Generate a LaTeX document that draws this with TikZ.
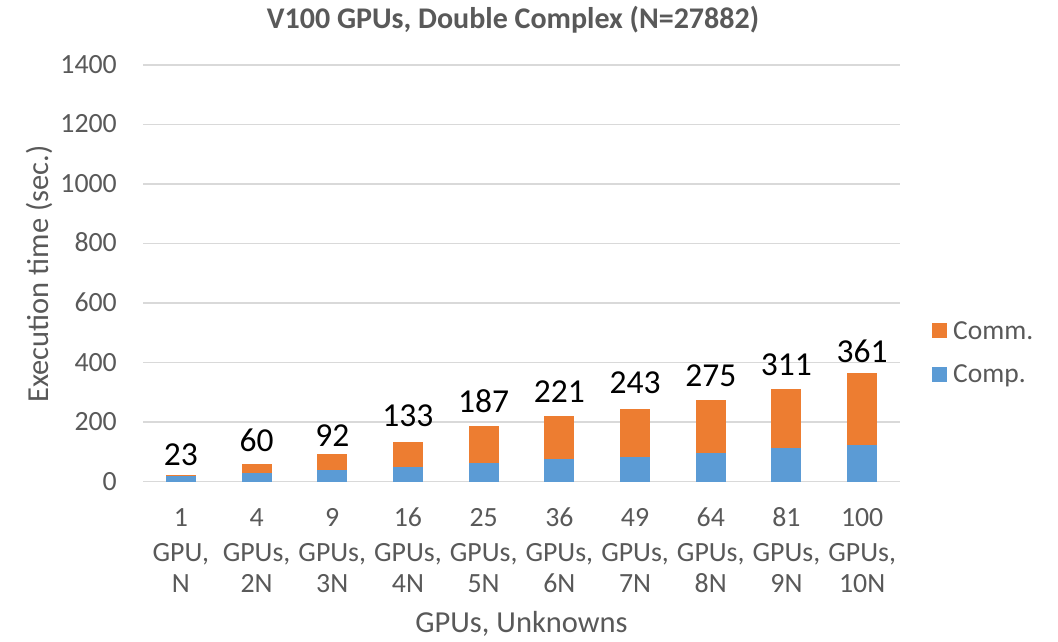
\documentclass[tikz,border=0pt]{standalone}
\usepackage{fontspec}
\setmainfont{Carlito}
\definecolor{txtgray}{HTML}{595959}
\definecolor{gridgray}{HTML}{D9D9D9}
\definecolor{commorange}{HTML}{ED7D31}
\definecolor{compblue}{HTML}{5B9BD5}
\begin{document}
\begin{tikzpicture}[x=1pt,y=-1pt,
  gridline/.style={draw=gridgray,line width=1.5pt},
  ticklab/.style={inner sep=0pt,text=txtgray,font=\fontsize{27.8}{32}\selectfont},
  catlab/.style={inner sep=0pt,anchor=base,text=txtgray,font=\fontsize{27.8}{32}\selectfont},
  datalab/.style={inner sep=0pt,anchor=base,text=black,font=\fontsize{33.5}{38}\selectfont},
  axtitle/.style={inner sep=0pt,anchor=base,text=txtgray,font=\fontsize{30.5}{35}\selectfont},
  legtext/.style={inner sep=0pt,anchor=base west,text=txtgray,font=\fontsize{27.5}{32}\selectfont}]
\useasboundingbox (0,0) rectangle (1058,641);
\fill[white] (0,0) rectangle (1058,641);

% horizontal gridlines and value axis labels
\foreach \k/\v in {0/0,1/200,2/400,3/600,4/800,5/1000,6/1200,7/1400}{
  \draw[gridline] (143,{481.7-\k*59.53}) -- (900,{481.7-\k*59.53});
  \node[ticklab,anchor=base east] (ytick\k) at (117,{481.7-\k*59.53+8.4}) {\v};
}

% stacked bars: computation (bottom) and communication (top)
\foreach \i/\c/\t/\n/\g/\u in {
   1/20/23/1/{GPU,}/N,
   2/28/60/4/{GPUs,}/2N,
   3/41/92/9/{GPUs,}/3N,
   4/49/133/16/{GPUs,}/4N,
   5/62/187/25/{GPUs,}/5N,
   6/75/221/36/{GPUs,}/6N,
   7/83/243/49/{GPUs,}/7N,
   8/96/275/64/{GPUs,}/8N,
   9/114/311/81/{GPUs,}/9N,
   10/122/364/100/{GPUs,}/10N}{
  \pgfmathsetmacro\cx{143+75.7*(\i-0.5)}
  \pgfmathsetmacro\yc{481.7-\c*0.29764}
  \pgfmathsetmacro\yt{481.7-\t*0.29764}
  \fill[compblue] (\cx-15,481.7) rectangle (\cx+15,\yc);
  \fill[commorange] (\cx-15,\yc) rectangle (\cx+15,\yt);
  \node[catlab] (cn\i) at (\cx,526.7) {\n};
  \node[catlab] (cg\i) at (\cx,561.7) {\g};
  \node[catlab] (cu\i) at (\cx,592.7) {\u};
}

% totals above the bars
\foreach \i/\t/\b in {1/23/465,2/60/451.7,3/92/446.7,4/133/426.7,5/187/412.7,
   6/221/402.3,7/243/393.3,8/275/386.7,9/311/375.7,10/361/362.7}{
  \pgfmathsetmacro\cx{143+75.7*(\i-0.5)}
  \node[datalab] (tot\i) at (\cx,\b) {\t};
}

% titles
\node[inner sep=0pt,anchor=base,text=txtgray,font=\fontsize{30}{35}\selectfont\bfseries]
  (title) at (513,28.5) {V100 GPUs, Double Complex (N=27882)};
\node[axtitle] (xtitle) at (521.5,632.5) {GPUs, Unknowns};
\node[axtitle,rotate=90] (ytitle) at (48,274) {Execution time (sec.)};

% legend
\fill[commorange] (931.7,323.3) rectangle (946.7,338.3);
\node[legtext] (legcomm) at (953,339.3) {Comm.};
\fill[compblue] (931.7,367.3) rectangle (946.7,382.3);
\node[legtext] (legcomp) at (953,382.7) {Comp.};
\end{tikzpicture}
\end{document}
